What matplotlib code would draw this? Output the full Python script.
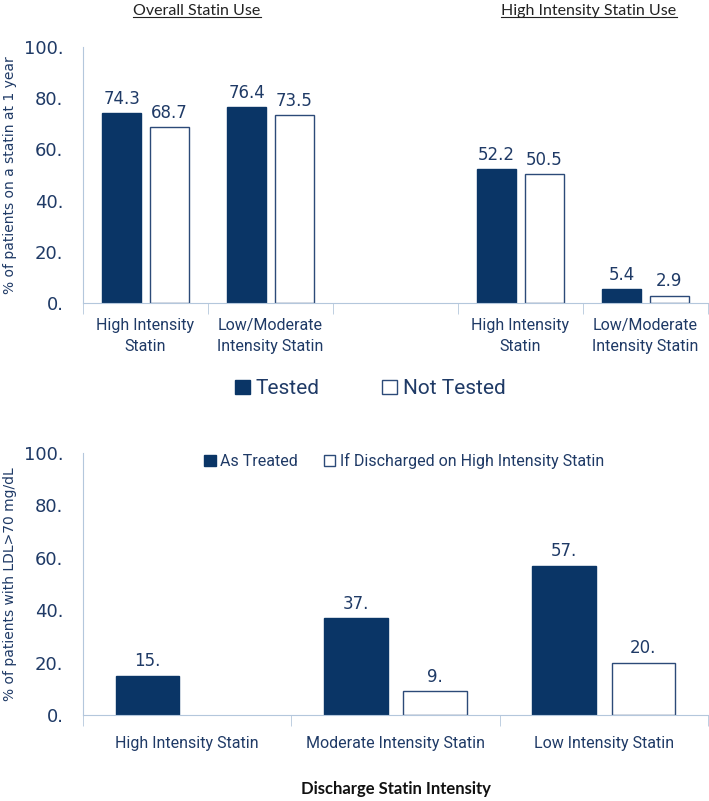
import numpy as np
import matplotlib.pyplot as plt
from matplotlib.lines import Line2D

# data
top_cats = ['High Intensity\nStatin', 'Low/Moderate\nIntensity Statin', '',
            'High Intensity\nStatin', 'Low/Moderate\nIntensity Statin']
tested = [74.3, 76.4, np.nan, 52.2, 5.4]
not_tested = [68.7, 73.5, np.nan, 50.5, 2.9]

bot_cats = ['High Intensity Statin', 'Moderate Intensity Statin', 'Low Intensity Statin']
as_treated = [15, 37, 57]
if_high = [np.nan, 9, 20]

yticks = [0, 20, 40, 60, 80, 100]

navy = '#0a3566'
edge = '#2c4a78'
axcol = '#b4c7dc'
txt = '#1f3a66'
narrow = 'Roboto'

fig = plt.figure(figsize=(7.09, 8.01), dpi=100)
ax1 = fig.add_axes([0.117, 0.6217, 0.8816, 0.3196])
ax2 = fig.add_axes([0.117, 0.1074, 0.8816, 0.3271])


def style(ax, n, cats, pad):
    ax.set_xlim(-0.5, n - 0.5)
    ax.set_ylim(0, 100)
    for s in ['top', 'right']:
        ax.spines[s].set_visible(False)
    ax.spines['left'].set_color(axcol)
    ax.spines['bottom'].set_color(axcol)
    ax.set_yticks(yticks)
    ax.set_yticklabels([f'{v}.' for v in yticks], fontsize=13, color=txt)
    ax.tick_params(axis='y', length=0, pad=14)
    ax.set_xticks(range(n))
    ax.set_xticklabels(cats, fontsize=11.5, color=txt, family=narrow, linespacing=1.45)
    ax.tick_params(axis='x', length=0, pad=pad)
    ax.set_xticks(np.arange(-0.5, n, 1.0), minor=True)
    ax.tick_params(axis='x', which='minor', length=8, color=axcol, direction='out')


x1 = np.arange(len(top_cats))
w1 = 0.31
b1 = ax1.bar(x1 - 0.19, tested, w1, color=navy, edgecolor=navy, label='Tested')
b2 = ax1.bar(x1 + 0.19, not_tested, w1, color='white', edgecolor=edge, linewidth=1, label='Not Tested')
style(ax1, len(top_cats), top_cats, 11)
for bars in (b1, b2):
    for r in bars:
        h = r.get_height()
        if np.isnan(h):
            continue
        ax1.text(r.get_x() + r.get_width() / 2, h + 2, f'{h}', ha='center', va='bottom',
                 fontsize=12, color=txt)
ax1.set_ylabel('% of patients on a statin at 1 year', fontsize=10, color=txt)
ax1.yaxis.set_label_coords(-0.105, 0.5)
ax1.legend(loc='center', bbox_to_anchor=(0.46, -0.335), ncol=2, frameon=False,
           prop={'family': narrow, 'size': 15}, labelcolor=txt, handlelength=0.7,
           handleheight=0.7, handletextpad=0.3, columnspacing=3)

x2 = np.arange(len(bot_cats))
w2 = 0.306
c1 = ax2.bar(x2 - 0.19, as_treated, w2, color=navy, edgecolor=navy, label='As Treated')
c2 = ax2.bar(x2 + 0.19, if_high, w2, color='white', edgecolor=edge, linewidth=1,
             label='If Discharged on High Intensity Statin')
style(ax2, len(bot_cats), bot_cats, 15)
for bars in (c1, c2):
    for r in bars:
        h = r.get_height()
        if np.isnan(h):
            continue
        ax2.text(r.get_x() + r.get_width() / 2, h + 2, f'{int(h)}.', ha='center', va='bottom',
                 fontsize=12, color=txt)
ax2.set_ylabel('% of patients with LDL>70 mg/dL', fontsize=10, color=txt)
ax2.yaxis.set_label_coords(-0.105, 0.5)
ax2.legend(loc='center', bbox_to_anchor=(0.514, 0.969), ncol=2, frameon=False,
           prop={'family': narrow, 'size': 11.5}, labelcolor=txt, handlelength=0.7,
           handleheight=0.7, handletextpad=0.3, columnspacing=1.6)
ax2.set_xlabel('Discharge Statin Intensity', fontsize=12, fontweight='bold',
               family='Lato', color='#111111', labelpad=22)

# underlined section titles
t1 = fig.text(197 / 709, 1 - 11 / 801, 'Overall Statin Use', ha='center', va='center',
              fontsize=11.5, family='Lato', color='#222222')
t2 = fig.text(589 / 709, 1 - 11 / 801, 'High Intensity Statin Use', ha='center', va='center',
              fontsize=11.5, family='Lato', color='#222222')
fig.canvas.draw()
inv = fig.transFigure.inverted()
for t in (t1, t2):
    bb = t.get_window_extent().transformed(inv)
    fig.add_artist(Line2D([bb.x0, bb.x1], [bb.y0 + 0.001, bb.y0 + 0.001],
                          transform=fig.transFigure, color='#222222', linewidth=0.8))

fig.savefig('out.png', dpi=100)
